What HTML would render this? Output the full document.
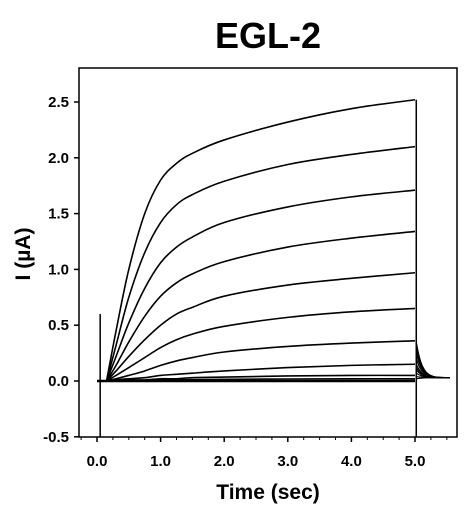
<!DOCTYPE html>
<html><head><meta charset="utf-8"><style>
body{margin:0;background:#fff;}
svg{display:block;font-family:"Liberation Sans",Arial,sans-serif;}
</style></head><body>
<svg id="chart" width="468" height="508">
<text x="268" y="48" font-size="36" font-weight="bold" text-anchor="middle">EGL-2</text>
<text transform="translate(30,254) rotate(-90)" font-size="21" font-weight="bold" text-anchor="middle">I (µA)</text>
<text x="268" y="499" font-size="21" font-weight="bold" text-anchor="middle">Time (sec)</text>
<rect x="79" y="68" width="378" height="369" fill="none" stroke="#000" stroke-width="1.5"/>
<g id="axes"></g><g id="series"></g>
</svg>
<script>
const times=[0.15,0.3,0.5,0.75,1,1.25,1.5,2,3,4,5];
const s1=[0,0.45,1.0,1.5,1.8,1.95,2.04,2.16,2.32,2.44,2.52];
const s2=[0,0.32,0.75,1.15,1.42,1.58,1.67,1.79,1.94,2.03,2.1];
const s3=[0,0.22,0.52,0.83,1.06,1.2,1.29,1.42,1.56,1.65,1.71];
const s4=[0,0.14,0.35,0.58,0.76,0.88,0.96,1.07,1.2,1.28,1.34];
const s5=[0,0.09,0.22,0.37,0.5,0.6,0.66,0.76,0.86,0.92,0.97];
const s6=[0,0.05,0.12,0.21,0.3,0.37,0.42,0.49,0.57,0.62,0.65];
const s7=[0,0.02,0.05,0.09,0.14,0.18,0.21,0.26,0.31,0.34,0.36];
const s8=[0,0.01,0.02,0.03,0.05,0.06,0.07,0.09,0.12,0.14,0.15];
const s9=[0,0,0.01,0.01,0.02,0.02,0.03,0.035,0.045,0.05,0.05];
const s10=[0,0,0,0.005,0.01,0.01,0.012,0.015,0.018,0.02,0.02];
const tailStart=[0.35,0.3,0.25,0.2,0.15,0.12,0.1,0.07,0.04,0.02];
const tailEnd=0.03;
const xTicks=[0,1,2,3,4,5];
const xTickLabels=["0.0","1.0","2.0","3.0","4.0","5.0"];
const yTicks=[-0.5,0,0.5,1,1.5,2,2.5];
const yTickLabels=["-0.5","0.0","0.5","1.0","1.5","2.0","2.5"];
const X=t=>97+t*63.6, Y=v=>381-v*111.6;
const NS="http://www.w3.org/2000/svg";
const ax=document.getElementById('axes'), sg=document.getElementById('series');
function mk(tag,a,p){const e=document.createElementNS(NS,tag);for(const k in a)e.setAttribute(k,a[k]);p.appendChild(e);return e;}
xTicks.forEach((t,i)=>{
 const l=mk('line',{x1:X(t),x2:X(t),y1:437,y2:442,stroke:'#000','stroke-width':1.5},ax);
 
 
 const tx=mk('text',{x:X(t),y:466,'font-size':15,'font-weight':'bold','text-anchor':'middle'},ax);tx.textContent=xTickLabels[i];
 
 
});
for(let t=-0.25;t<5.6;t+=0.25){mk('line',{x1:X(t),x2:X(t),y1:437,y2:440,stroke:'#000'},ax);}
yTicks.forEach((v,i)=>{
 const l=mk('line',{x1:74,x2:79,y1:Y(v),y2:Y(v),stroke:'#000','stroke-width':1.5},ax);
 
 
 const tx=mk('text',{x:69,y:Y(v)+5,'font-size':15,'font-weight':'bold','text-anchor':'end'},ax);tx.textContent=yTickLabels[i];
 
 
});
function smooth(pts){let d=`M${pts[0][0]},${pts[0][1]}`;for(let i=0;i<pts.length-1;i++){const p0=pts[i-1]||pts[i],p1=pts[i],p2=pts[i+1],p3=pts[i+2]||p2;
 d+=` C${p1[0]+(p2[0]-p0[0])/6},${p1[1]+(p2[1]-p0[1])/6} ${p2[0]-(p3[0]-p1[0])/6},${p2[1]-(p3[1]-p1[1])/6} ${p2[0]},${p2[1]}`;}return d;}
const base=mk('line',{x1:X(0),x2:X(5),y1:Y(0),y2:Y(0),stroke:'#000','stroke-width':2.5},sg);


const art=mk('line',{x1:X(0.05),x2:X(0.05),y1:Y(-0.5),y2:Y(0.6),stroke:'#000','stroke-width':1.5},sg);


const v5=mk('line',{x1:X(5.02),x2:X(5.02),y1:Y(-0.5),y2:Y(s1[s1.length-1]),stroke:'#000','stroke-width':1.5},sg);


[s1,s2,s3,s4,s5,s6,s7,s8,s9,s10].forEach((s,i)=>{
 const p=mk('path',{d:smooth(times.map((t,j)=>[X(t),Y(s[j])])),fill:'none',stroke:'#000','stroke-width':1.6},sg);
 
 
 const a=X(5.02),b=X(5.55),y0=Y(tailStart[i]),y1=Y(tailEnd);
 const tl=mk('path',{d:`M${a},${y0} C${a+6},${y1} ${a+12},${y1} ${b},${y1}`,fill:'none',stroke:'#000','stroke-width':1.2},sg);
 
 
});
</script>
</body></html>
